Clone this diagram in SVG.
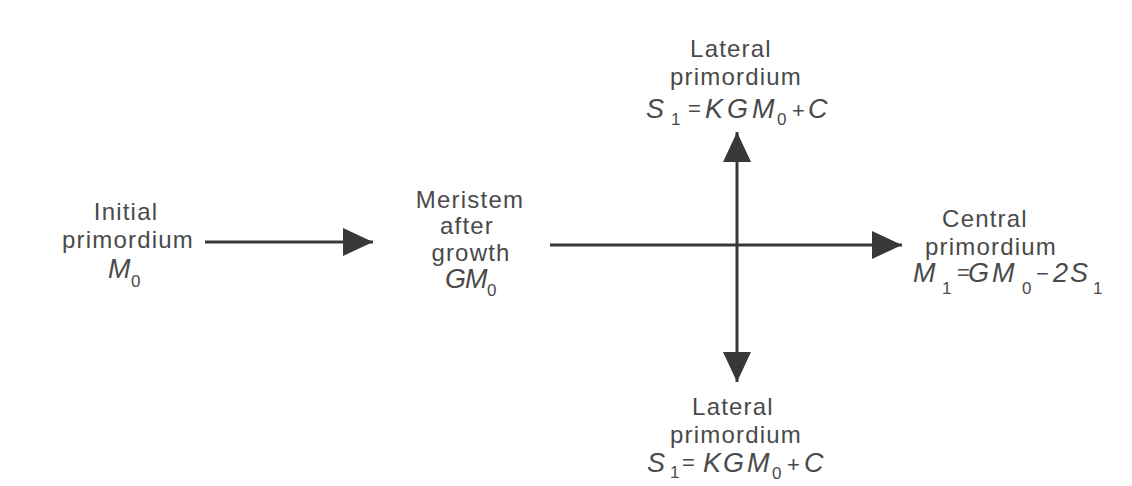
<svg xmlns="http://www.w3.org/2000/svg" width="1132" height="486" viewBox="0 0 1132 486">
  <defs>
    <marker id="head" markerUnits="userSpaceOnUse" markerWidth="30" markerHeight="30" refX="30" refY="15" orient="auto" viewBox="0 0 30 30">
      <path d="M0,1 L30,15 L0,29 Z" fill="#383838"/>
    </marker>
    <style>
      .lbl { font-family: "Liberation Sans", Arial, sans-serif; font-size: 24px; letter-spacing: 1.2px; fill: #4a4a4a; text-anchor: middle; }
      .math { font-family: "Liberation Sans", Arial, sans-serif; font-size: 27px; font-style: italic; fill: #4a4a4a; }
      .sub { font-family: "Liberation Sans", Arial, sans-serif; font-size: 17px; fill: #4a4a4a; }
      .op { font-family: "Liberation Sans", Arial, sans-serif; font-size: 22px; fill: #4a4a4a; }
      .conn { stroke: #383838; stroke-width: 3; fill: none; marker-end: url(#head); }
    </style>
  </defs>
  <rect width="1132" height="486" fill="#ffffff"/>

  <g id="connectors">
    <line class="conn" x1="205" y1="242" x2="373" y2="242"/>
    <line class="conn" x1="550" y1="245" x2="902" y2="245"/>
    <line class="conn" x1="737" y1="245" x2="737" y2="132"/>
    <line class="conn" x1="737" y1="245" x2="737" y2="382"/>
  </g>

  <g id="initial">
    <text class="lbl" x="126" y="220">Initial</text>
    <text class="lbl" x="128" y="248">primordium</text>
    <text class="math" x="108" y="278">M</text>
    <text class="sub" x="131" y="287">0</text>
  </g>

  <g id="meristem">
    <text class="lbl" x="470" y="208">Meristem</text>
    <text class="lbl" x="467" y="234">after</text>
    <text class="lbl" x="471" y="261">growth</text>
    <text class="math" x="445 465" y="288">GM</text>
    <text class="sub" x="487" y="296">0</text>
  </g>

  <g id="lateral-top">
    <text class="lbl" x="731" y="57">Lateral</text>
    <text class="lbl" x="736" y="85">primordium</text>
    <text class="math" x="646" y="118">S</text>
    <text class="sub" x="671" y="125">1</text>
    <text class="op" x="688" y="116">=</text>
    <text class="math" x="705 727 752" y="118">KGM</text>
    <text class="sub" x="777" y="125">0</text>
    <text class="op" x="792" y="118">+</text>
    <text class="math" x="808" y="118">C</text>
  </g>

  <g id="central">
    <text class="lbl" x="985" y="227">Central</text>
    <text class="lbl" x="991" y="255">primordium</text>
    <text class="math" x="913" y="282">M</text>
    <text class="sub" x="942" y="294">1</text>
    <text class="op" x="957" y="280">=</text>
    <text class="math" x="968 992" y="282">GM</text>
    <text class="sub" x="1022" y="294">0</text>
    <text class="op" x="1036" y="281">−</text>
    <text class="math" x="1053 1070" y="282">2S</text>
    <text class="sub" x="1093" y="294">1</text>
  </g>

  <g id="lateral-bottom">
    <text class="lbl" x="733" y="415">Lateral</text>
    <text class="lbl" x="736" y="443">primordium</text>
    <text class="math" x="647" y="472">S</text>
    <text class="sub" x="670" y="478">1</text>
    <text class="op" x="682" y="470">=</text>
    <text class="math" x="703 723 747" y="472">KGM</text>
    <text class="sub" x="772" y="479">0</text>
    <text class="op" x="787" y="472">+</text>
    <text class="math" x="804" y="472">C</text>
  </g>
</svg>
